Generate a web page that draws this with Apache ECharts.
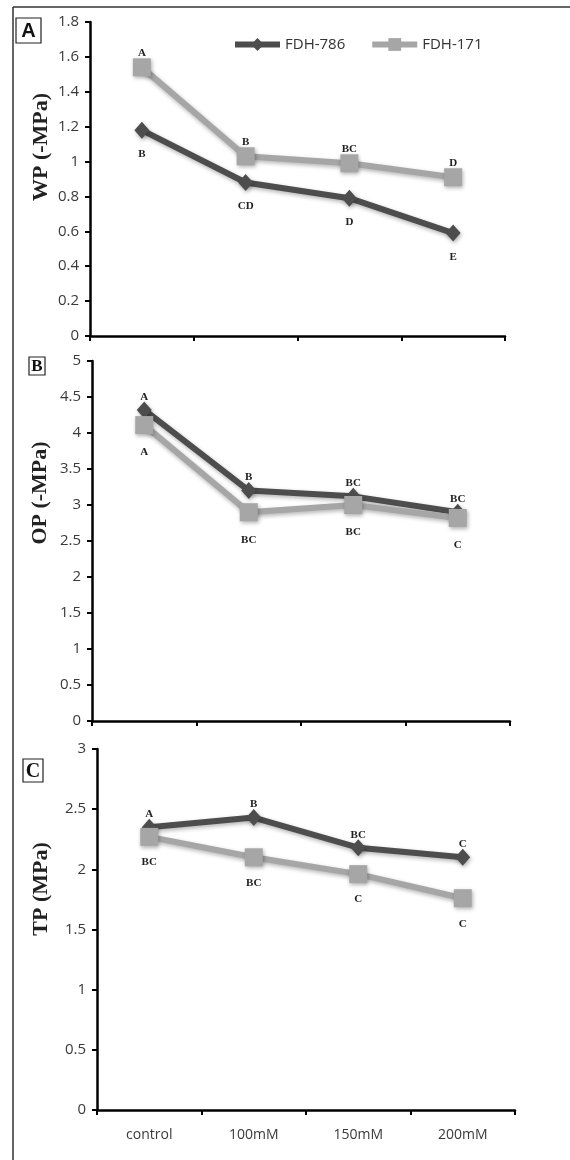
<!DOCTYPE html>
<html><head><meta charset="utf-8">
<script src="https://cdn.jsdelivr.net/npm/echarts@6/dist/echarts.min.js"></script>
<style>html,body{margin:0;padding:0;background:#fff}#c{width:570px;height:1160px}</style>
</head><body><div id="c"></div>
<script>
var categories = ['control', '100mM', '150mM', '200mM'];
var seriesNames = ['FDH-786', 'FDH-171'];
var wp786 = [1.18, 0.88, 0.79, 0.59];
var wp171 = [1.54, 1.03, 0.99, 0.91];
var op786 = [4.32, 3.2, 3.12, 2.9];
var op171 = [4.11, 2.9, 3.0, 2.82];
var tp786 = [2.35, 2.43, 2.18, 2.1];
var tp171 = [2.27, 2.1, 1.96, 1.76];
var wpLet786 = ['B', 'CD', 'D', 'E'];
var wpLet171 = ['A', 'B', 'BC', 'D'];
var opLet786 = ['A', 'B', 'BC', 'BC'];
var opLet171 = ['A', 'BC', 'BC', 'C'];
var tpLet786 = ['A', 'B', 'BC', 'C'];
var tpLet171 = ['BC', 'BC', 'C', 'C'];
var axisTitles = ['WP (-MPa)', 'OP (-MPa)', 'TP (MPa)'];
var panelLetters = ['A', 'B', 'C'];

var dark = '#4d4d4d', light = '#a6a6a6';
var sans = '"Open Sans", "Liberation Sans", sans-serif';
var serif = '"Liberation Serif", "DejaVu Serif", serif';

var chart = echarts.init(document.getElementById('c'), null, {renderer: 'canvas'});

var grids = [
  {left: 90, right: 65, top: 22, height: 314},
  {left: 92, right: 60, top: 361, height: 360},
  {left: 97, right: 55, top: 749, height: 361}
];
var yCfg = [
  {min: 0, max: 1.8, interval: 0.2},
  {min: 0, max: 5, interval: 0.5},
  {min: 0, max: 3, interval: 0.5}
];

var xAxes = grids.map(function (g, i) {
  return {
    type: 'category', gridIndex: i, data: categories, boundaryGap: true,
    axisLine: {lineStyle: {color: '#000', width: 2.5}},
    axisTick: {show: true, length: 5, lineStyle: {color: '#000', width: 2}},
    axisLabel: {show: i === 2, fontFamily: sans, fontSize: 14, color: '#3a3a3a', margin: 18}
  };
});
var yAxes = yCfg.map(function (c, i) {
  return {
    type: 'value', gridIndex: i, min: c.min, max: c.max, interval: c.interval,
    splitLine: {show: false},
    axisLine: {show: true, lineStyle: {color: '#000', width: 2.5}},
    axisTick: {show: true, length: 5, lineStyle: {color: '#000', width: 2}},
    axisLabel: {fontFamily: sans, fontSize: 15, color: '#3a3a3a', margin: 11}
  };
});

function mk(name, idx, data, lets, pos, dist) {
  var isDark = name === seriesNames[0];
  var col = isDark ? dark : light;
  return {
    name: name, type: 'line', xAxisIndex: idx, yAxisIndex: idx, data: data,
    symbol: isDark ? 'diamond' : 'rect',
    symbolSize: isDark ? [15, 17] : [18, 18],
    lineStyle: {color: col, width: 6, shadowBlur: 4, shadowColor: 'rgba(0,0,0,0.3)', shadowOffsetX: 1, shadowOffsetY: 2},
    itemStyle: {color: col, borderWidth: 0, shadowBlur: 4, shadowColor: 'rgba(0,0,0,0.3)', shadowOffsetX: 1, shadowOffsetY: 2},
    label: {
      show: true, position: pos, distance: dist,
      formatter: function (p) { return lets[p.dataIndex]; },
      fontFamily: serif, fontWeight: 'bold', fontSize: 11, color: '#222'
    },
    emphasis: {disabled: true},
    animation: false
  };
}

var series = [
  mk(seriesNames[0], 0, wp786, wpLet786, 'bottom', 10),
  mk(seriesNames[1], 0, wp171, wpLet171, 'top', 0),
  mk(seriesNames[0], 1, op786, opLet786, 'top', -1),
  mk(seriesNames[1], 1, op171, opLet171, 'bottom', 13),
  mk(seriesNames[0], 2, tp786, tpLet786, 'top', -1),
  mk(seriesNames[1], 2, tp171, tpLet171, 'bottom', 11)
];

var titleCenters = [[41, 147], [40, 493], [41, 889]];
var boxes = [
  {x: 16, y: 18, w: 25, h: 25, font: 'bold 20px "Liberation Sans", sans-serif'},
  {x: 29, y: 357, w: 16, h: 18, font: 'bold 17px "Liberation Serif", serif'},
  {x: 23, y: 759, w: 20, h: 23, font: 'bold 20px "Liberation Serif", serif'}
];
var graphics = [
  {type: 'line', shape: {x1: 13, y1: 7, x2: 570, y2: 7}, style: {stroke: '#333', lineWidth: 1.5}, silent: true},
  {type: 'line', shape: {x1: 13, y1: 7, x2: 13, y2: 1160}, style: {stroke: '#333', lineWidth: 1.5}, silent: true}
];
axisTitles.forEach(function (t, i) {
  graphics.push({
    type: 'text', x: titleCenters[i][0], y: titleCenters[i][1], rotation: Math.PI / 2,
    style: {text: t, font: 'bold 22px "Liberation Serif", serif', fill: '#222', textAlign: 'center', textVerticalAlign: 'middle'},
    silent: true
  });
});
boxes.forEach(function (b, i) {
  graphics.push({type: 'rect', shape: {x: b.x, y: b.y, width: b.w, height: b.h}, style: {fill: '#fff', stroke: '#222', lineWidth: 1.2}, silent: true});
  graphics.push({type: 'text', x: b.x + b.w / 2, y: b.y + b.h / 2 + 1,
    style: {text: panelLetters[i], font: b.font, fill: '#111', textAlign: 'center', textVerticalAlign: 'middle'}, silent: true});
});

chart.setOption({
  animation: false,
  backgroundColor: '#fff',
  legend: {
    data: seriesNames, left: 227, top: 32, itemWidth: 45, itemHeight: 16, itemGap: 24,
    lineStyle: {width: 6},
    textStyle: {fontFamily: sans, fontSize: 15, color: '#333'}
  },
  grid: grids,
  xAxis: xAxes,
  yAxis: yAxes,
  series: series,
  graphic: graphics
});
</script>
</body></html>
